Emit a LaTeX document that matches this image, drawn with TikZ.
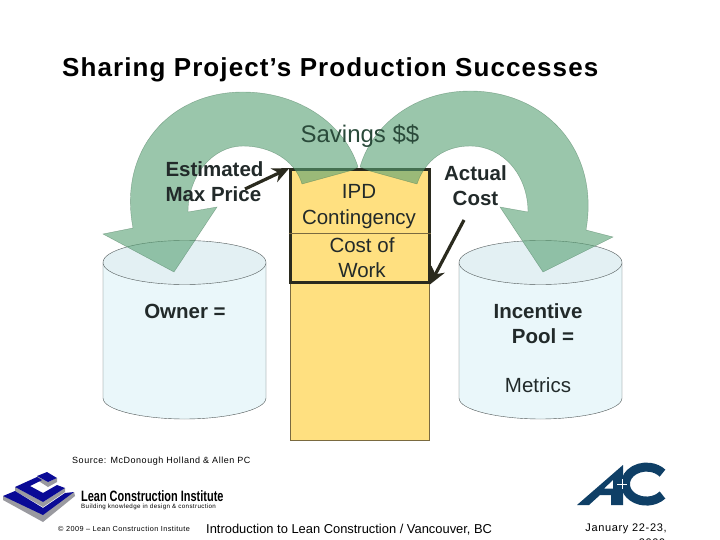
\documentclass[tikz,border=0pt]{standalone}
\usepackage{fontspec}
\setmainfont{Liberation Sans}
\newfontfamily\spacedfont[LetterSpace=6]{Liberation Sans}
\newfontfamily\titlefont[LetterSpace=4.2]{Liberation Sans}
\usepackage{xcolor}
\usetikzlibrary{arrows.meta, positioning}
\definecolor{savingsGreen}{HTML}{57A073}
\definecolor{tankBody}{HTML}{EAF7FA}
\definecolor{tankTop}{HTML}{E3F0F3}
\definecolor{tankEdge}{HTML}{505858}
\definecolor{columnYellow}{HTML}{FFE080}
\definecolor{columnEdge}{HTML}{7A6A40}
\definecolor{boxEdge}{HTML}{2A2A1E}
\definecolor{inkDark}{HTML}{222A2A}
\definecolor{inkGreen}{HTML}{2A4A3A}
\definecolor{lciBlue}{HTML}{0A0A96}
\definecolor{lciGray}{HTML}{9A9AA0}
\definecolor{acBlue}{HTML}{0F3F66}
\tikzset{
    tank/.pic={
        \path[fill=tankBody, draw=tankEdge, thin] (-81.5,0) -- (-81.5,135.5) .. controls (-81.5,148) and (-40,156.5) .. (0,156.5) .. controls (40,156.5) and (81.5,148) .. (81.5,135.5) -- (81.5,0);
        \path[fill=tankTop, draw=tankEdge, thin] (0,0) ellipse [x radius=81.5, y radius=22];
    },
    textlabel/.style={inner sep=0pt, align=center, text=inkDark, font=\fontsize{20.5}{25}\selectfont},
    boldlabel/.style={textlabel, font=\fontsize{20.5}{25}\selectfont\bfseries},
    savingsarrow/.style={fill=savingsGreen, fill opacity=0.6, draw=savingsGreen!70!black, draw opacity=0.5, thin},
    pointer/.style={-{Stealth[length=17pt,width=15pt]}, line width=3.2pt, draw=boxEdge, shorten >=-1pt},
    footer/.style={inner sep=0pt, anchor=base west, text=black},
    lcistep/.style={fill=lciBlue, draw=none},
    lcishade/.style={fill=lciGray, draw=none},
}
\begin{document}
\begin{tikzpicture}[x=1pt, y=-1pt]
    \path[use as bounding box, fill=white] (0,0) rectangle (720,540);

    \node[inner sep=0pt, anchor=base west, font=\titlefont\fontsize{26}{30}\selectfont\bfseries, text=black] (title) at (62,77) {Sharing Project’s Production Successes};

    % tanks and column
    \pic (ownerTank) at (184.5,262.5) {tank};
    \pic (poolTank) at (540.5,262.5) {tank};
    \node[rectangle, draw=columnEdge, fill=columnYellow, semithick, minimum width=139pt, minimum height=270pt, inner sep=0pt] (column) at (359.5,305) {};
    \node[rectangle, draw=boxEdge, line width=3pt, minimum width=139pt, minimum height=112pt, inner sep=0pt] (costBox) at (359.5,226) {};
    \coordinate (splitLeft) at (costBox.west |- 0,233);
    \coordinate (splitRight) at (costBox.east |- 0,233);
    \draw[columnEdge, thin] (splitLeft) -- (splitRight);

    % savings arrows
    \path[savingsarrow] (358,167) .. controls (345,125) and (300,92) .. (243,92)
        .. controls (170,92) and (118,150) .. (133,228) -- (103,234) -- (174,272) -- (217,207) -- (188,212)
        .. controls (188,175) and (213,146) .. (243,146)
        .. controls (270,146) and (295,160) .. (302,184) -- (353,170) -- cycle;
    \path[savingsarrow] (360,167) .. controls (372,125) and (415,91) .. (470,91)
        .. controls (545,91) and (600,150) .. (586,230) -- (613,237) -- (543,272) -- (500,207) -- (528,212)
        .. controls (528,175) and (503,146) .. (470,146)
        .. controls (445,146) and (425,160) .. (417,184) -- (370,171) -- cycle;

    % labels
    \node[textlabel, text=inkGreen, font=\fontsize{24}{29}\selectfont] (savings) at (360,136) {Savings \$\$};
    \node[textlabel, font=\fontsize{20.5}{26}\selectfont] (contingency) at (359,207) {IPD\\Contingency};
    \node[textlabel] (work) at (362,258) {Cost of\\Work};
    \node[boldlabel, align=left] (maxPrice) at (214.5,182) {Estimated\\Max Price};
    \node[boldlabel] (actual) at (475.5,186) {Actual\\Cost};
    \node[boldlabel] (owner) at (185,311) {Owner =};
    \node[boldlabel] (pool) at (538,324) {Incentive\\\hspace*{10pt}Pool =};
    \node[textlabel, below=33pt of pool] (metrics) {Metrics};

    % pointers
    \coordinate (priceStart) at (245,189);
    \coordinate (costStart) at (464,220);
    \draw[pointer] (priceStart) -- (costBox.north west);
    \draw[pointer] (costStart) -- (costBox.south east);

    % footer
    \node[footer, font=\spacedfont\fontsize{9}{11}\selectfont] (source) at (72,463) {Source: McDonough Holland \& Allen PC};
    \node[footer, font=\fontsize{12.9}{16}\selectfont] (course) at (206,533) {Introduction to Lean Construction / Vancouver, BC};
    \node[footer, font=\spacedfont\fontsize{7.3}{9}\selectfont] (copyright) at (58,531) {© 2009 – Lean Construction Institute};
    \node[inner sep=0pt, anchor=base, font=\spacedfont\fontsize{11}{14}\selectfont, text=black, align=center] (date) at (626,531) {January 22-23,};
    \node[inner sep=0pt, anchor=base, font=\spacedfont\fontsize{11}{14}\selectfont, text=black] (year) at (652,546) {2009};

    % institute logo
    \path[lcishade] (3,496) -- (43,513) -- (74,492) -- (75,496) -- (43,522) -- (3,500) -- cycle;
    \path[lcishade] (15,487) -- (43,502) -- (65,488) -- (65,492) -- (43,507) -- (15,491) -- cycle;
    \path[lcishade] (37,476) -- (48,482) -- (57,478) -- (57,482) -- (48,487) -- (37,480) -- cycle;
    \path[lcistep] (3,496) -- (15,491) -- (43,508) -- (65,493) -- (74,492) -- (43,515) -- cycle;
    \path[lcistep] (15,487) -- (37,477) -- (42,480) -- (30,486) -- (43,493) -- (57,485) -- (65,488) -- (43,502) -- cycle;
    \path[lcistep] (37,476) -- (47,472) -- (57,478) -- (48,482) -- cycle;
    \node[footer, font=\fontsize{15}{17}\selectfont\bfseries, xscale=0.73] (lciName) at (81,501) {Lean Construction Institute};
    \node[footer, font=\spacedfont\fontsize{6.2}{7}\selectfont] (lciMotto) at (81,508) {Building knowledge in design \& construction};

    % contractor logo
    \path[fill=acBlue, even odd rule] (577,505) -- (623,465) -- (623,505) -- (611,505) -- (611,495) -- (600,495) -- (589,505) -- cycle
        (604,488.5) -- (613,488.5) -- (613,480) -- cycle;
    \draw[acBlue, line width=9pt] (662.5,495) arc[start angle=40, end angle=320, x radius=21, y radius=17];
    \draw[white, thin] (622,479) -- (622,489);
    \draw[white, thin] (617,484) -- (627,484);
\end{tikzpicture}
\end{document}
